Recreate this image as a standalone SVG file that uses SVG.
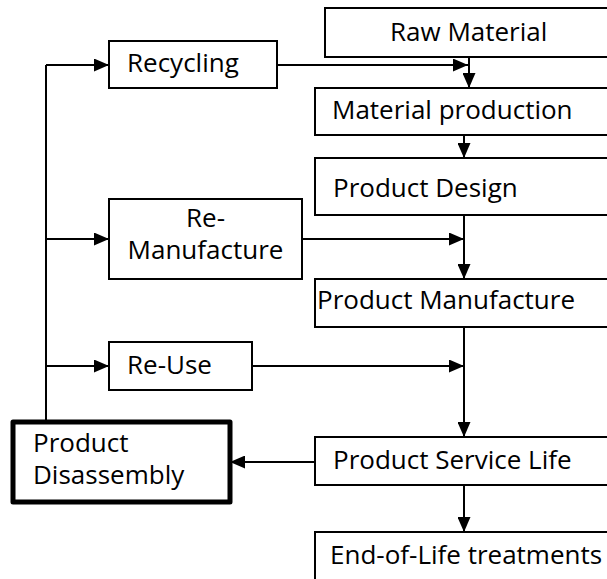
<svg xmlns="http://www.w3.org/2000/svg" width="607" height="579" viewBox="0 0 607 579">
<defs>
<marker id="ah" viewBox="0 0 15 13" refX="15" refY="6.5" markerWidth="15" markerHeight="13" markerUnits="userSpaceOnUse" orient="auto">
<path d="M0,0 L15,6.5 L0,13 z" fill="#000"/>
</marker>
<style>
.box{fill:#fff;stroke:#000;stroke-width:2}
.thick{fill:#fff;stroke:#000;stroke-width:5;stroke-linejoin:round}
.t{font-family:"Open Sans","Liberation Sans",sans-serif;font-size:26px;fill:#000}
.c{fill:none;stroke:#000;stroke-width:2}
.a{fill:none;stroke:#000;stroke-width:2;marker-end:url(#ah)}
</style>
</defs>
<rect width="607" height="579" fill="#fff"/>
<g id="connectors">
<path class="c" d="M46,422 V65"/>
<path class="a" d="M46,65 H109"/>
<path class="a" d="M46,239 H109"/>
<path class="a" d="M46,366 H109"/>
<path class="a" d="M277,65 H468"/>
<path class="a" d="M469,57 V88"/>
<path class="a" d="M464,135 V158"/>
<path class="a" d="M302,239 H464"/>
<path class="a" d="M464,215 V279"/>
<path class="a" d="M252,366 H464"/>
<path class="a" d="M464,327 V437"/>
<path class="a" d="M315,462 H230"/>
<path class="a" d="M464,485 V532"/>
</g>
<g id="raw-material"><rect class="box" x="325" y="8" width="300" height="49"/><text class="t" x="390" y="41">Raw Material</text></g>
<g id="recycling"><rect class="box" x="109" y="41" width="168" height="47"/><text class="t" x="127" y="72">Recycling</text></g>
<g id="material-production"><rect class="box" x="315" y="88" width="310" height="47"/><text class="t" x="332" y="119">Material production</text></g>
<g id="product-design"><rect class="box" x="315" y="158" width="310" height="57"/><text class="t" x="333" y="197">Product Design</text></g>
<g id="re-manufacture"><rect class="box" x="109" y="199" width="193" height="80"/><text class="t" x="205.5" y="227" text-anchor="middle">Re-</text><text class="t" x="205.5" y="259" text-anchor="middle">Manufacture</text></g>
<g id="product-manufacture"><rect class="box" x="315" y="279" width="310" height="48"/><text class="t" x="317" y="309">Product Manufacture</text></g>
<g id="re-use"><rect class="box" x="109" y="342" width="143" height="48"/><text class="t" x="127" y="374">Re-Use</text></g>
<g id="product-service-life"><rect class="box" x="315" y="437" width="310" height="48"/><text class="t" x="333" y="469">Product Service Life</text></g>
<g id="product-disassembly"><rect class="thick" x="13" y="422" width="217" height="80"/><text class="t" x="33" y="452">Product</text><text class="t" x="33" y="484">Disassembly</text></g>
<g id="end-of-life"><rect class="box" x="315" y="532" width="310" height="60"/><text class="t" x="330" y="564">End-of-Life treatments</text></g>
</svg>
